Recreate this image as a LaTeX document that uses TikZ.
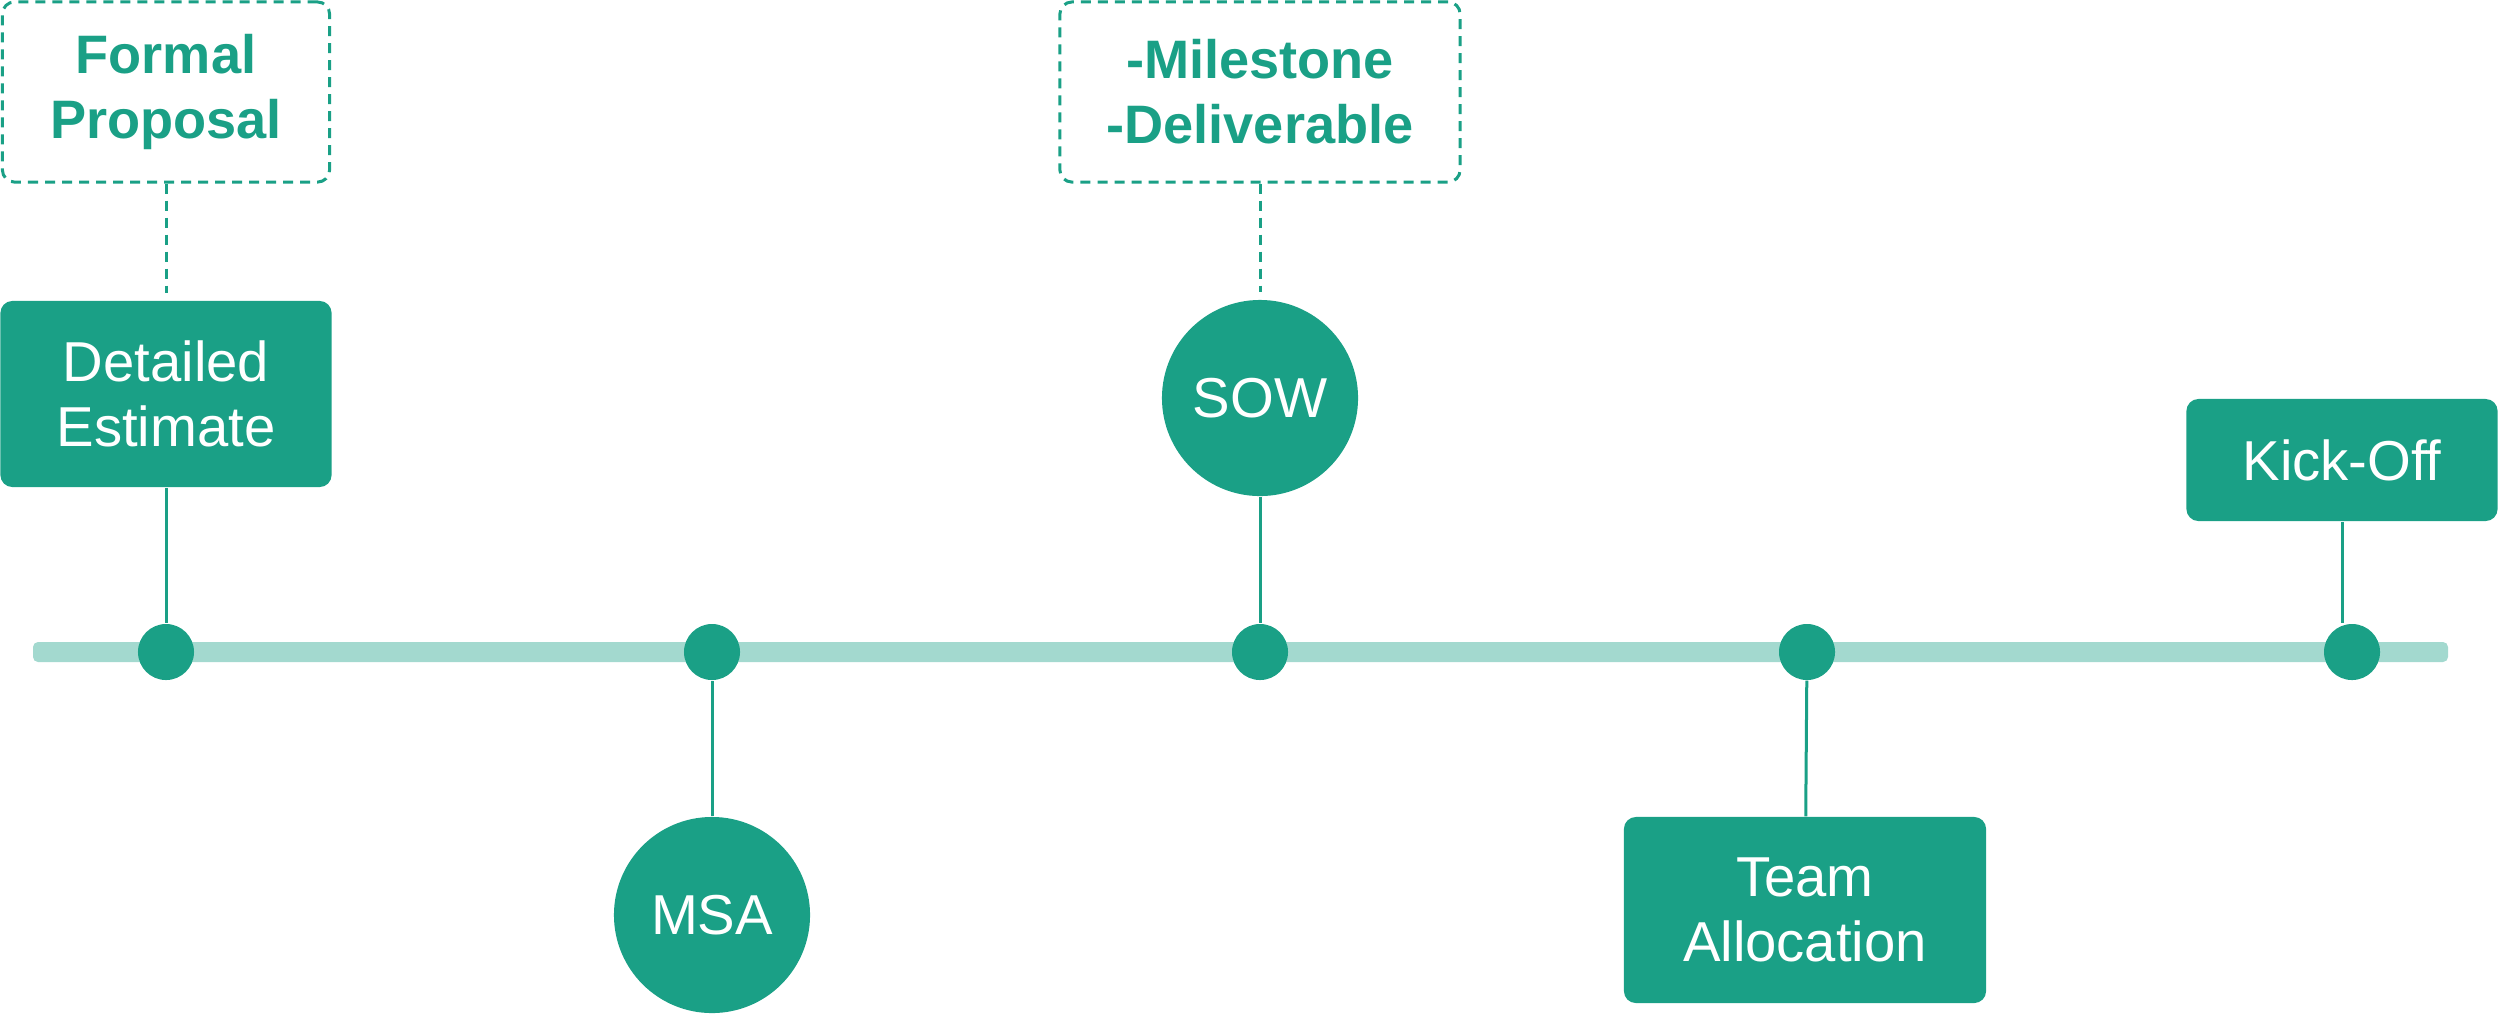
\documentclass[tikz,border=0pt]{standalone}
\usepackage{fontspec}
\setmainfont{Liberation Sans}
\usepackage{xcolor}
\usepackage{tikz}
\usetikzlibrary{positioning,calc}
\definecolor{tlgreen}{RGB}{26,160,134}
\definecolor{tlbar}{RGB}{163,217,207}

\begin{document}
\begin{tikzpicture}[x=0.01cm, y=-0.01cm,
    every node/.style={font=\fontsize{16}{18.5}\selectfont, align=center},
    dot/.style={circle, fill=tlgreen, minimum size=0.56cm, inner sep=0pt},
    card/.style={rectangle, rounded corners=0.12cm, fill=tlgreen, text=white, inner sep=0pt},
    bubble/.style={circle, fill=tlgreen, text=white, inner sep=0pt},
    note/.style={rectangle, rounded corners=0.12cm, draw=tlgreen, line width=0.03cm,
        dash pattern=on 0.1cm off 0.07cm, text=tlgreen, inner sep=0pt,
        font=\fontsize{15.4}{18.5}\selectfont\bfseries},
    link/.style={draw=tlgreen, line width=0.03cm},
    dashlink/.style={link, dash pattern=on 0.1cm off 0.07cm, shorten >=0.07cm}]
    \useasboundingbox (0,0) rectangle (2500,1014);

    % Timeline bar
    \fill [tlbar, rounded corners=0.05cm] (33,642) rectangle (2448,662);

    % Stops on the timeline
    \foreach \x/\n in {166/d1, 712/d2, 1260/d3, 1807/d4, 2352/d5} {
        \node [dot] (\n) at (\x,652) {};
    }

    % Above the line
    \node [note, minimum width=3.27cm, minimum height=1.8cm] (proposal) at (166,92) {Formal\\Proposal};
    \node [card, minimum width=3.31cm, minimum height=1.86cm] (estimate) at (166,394) {Detailed\\Estimate};
    \node [note, minimum width=4.0cm, minimum height=1.8cm] (deliver) at (1260,92) {-Milestone\\-Deliverable};
    \node [bubble, minimum size=1.96cm] (sow) at (1260,398) {SOW};
    \node [card, minimum width=3.11cm, minimum height=1.22cm] (kickoff) at (2342,460) {Kick-Off};

    % Below the line
    \node [bubble, minimum size=1.96cm] (msa) at (712,915) {MSA};
    \node [card, minimum width=3.62cm, minimum height=1.86cm] (team) at (1805,910) {Team\\Allocation};

    % Connectors
    \draw [dashlink] (proposal) -- (estimate);
    \draw [link] (estimate) -- (d1);
    \draw [link] (d2) -- (msa);
    \draw [dashlink] (deliver) -- (sow);
    \draw [link] (sow) -- (d3);
    \draw [link] (d4) -- (team);
    \draw [link] (kickoff) -- (kickoff |- d5.north);
\end{tikzpicture}
\end{document}
